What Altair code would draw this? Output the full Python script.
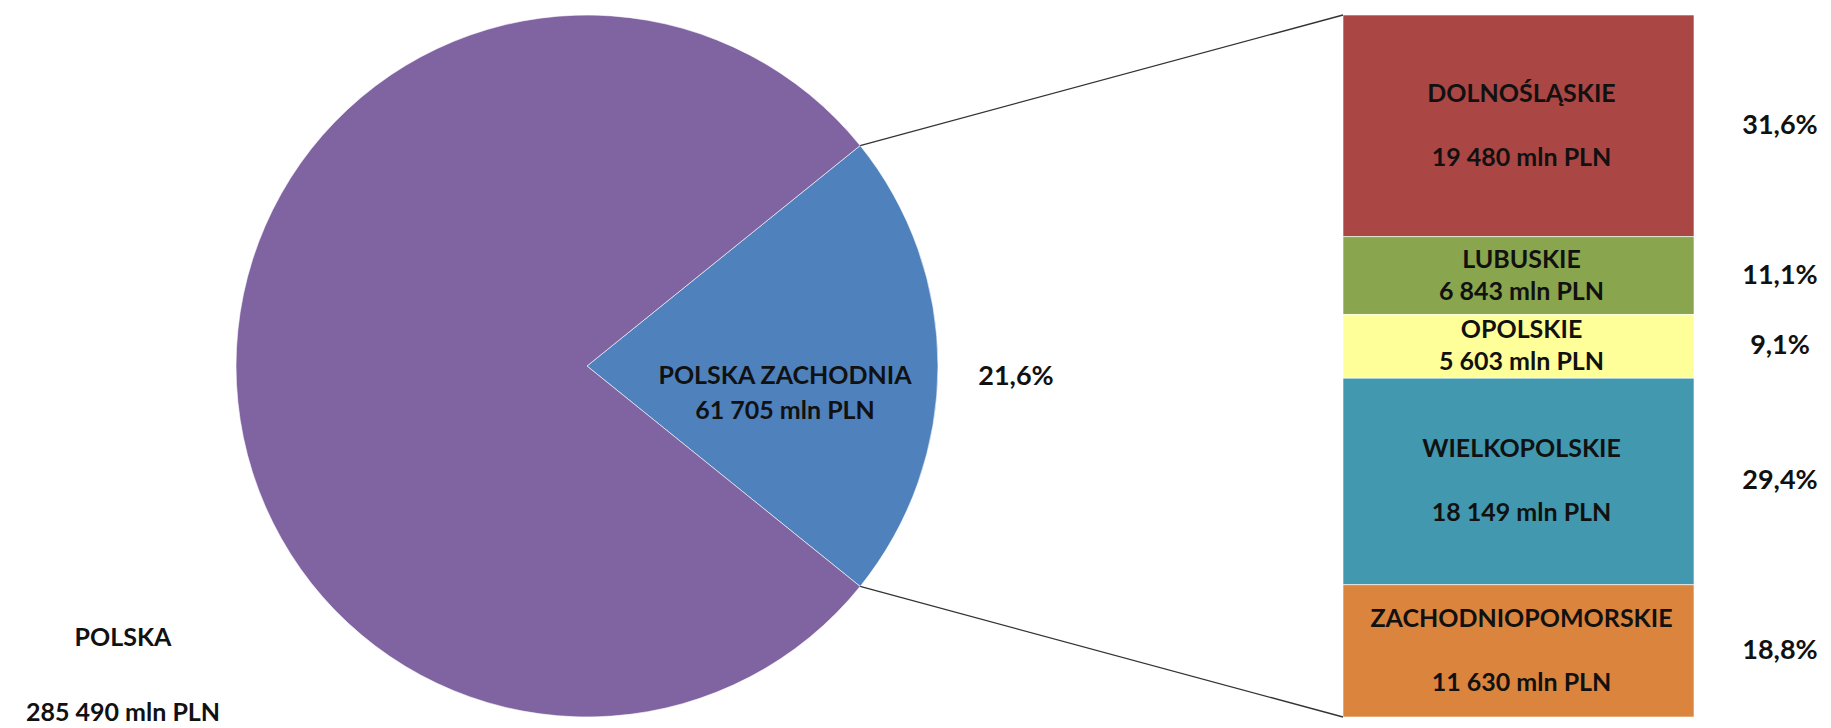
import math
import altair as alt
import pandas as pd

# ---- data ----
total_name = "POLSKA"
total_value = 285490
west_name = "POLSKA ZACHODNIA"
west_value = 61705
west_pct = "21,6%"

regions = ["DOLNOŚLĄSKIE", "LUBUSKIE", "OPOLSKIE", "WIELKOPOLSKIE", "ZACHODNIOPOMORSKIE"]
region_values = [19480, 6843, 5603, 18149, 11630]
region_pct = ["31,6%", "11,1%", "9,1%", "29,4%", "18,8%"]

names_all = [west_name, total_name] + regions
colors_all = ["#4F81BD", "#8064A2", "#AA4643", "#89A54E", "#FFFF99", "#4198AF", "#DB843D"]

# ---- layout ----
W, H = 1831, 728
CX, CY, R = 587, 366, 351
BAR_X0, BAR_X1, BAR_Y0, BAR_Y1 = 1343, 1694, 15, 717
BAR_CX = (BAR_X0 + BAR_X1) / 2 + 3
PCT_X = 1780
FONT = "Lato"
TXT = dict(font=FONT, fontSize=25, fontWeight="bold", color="#111111", baseline="middle", align="center")
PCT = dict(font=FONT, fontSize=27, fontWeight="bold", color="#111111", baseline="middle", align="center")


def fmt(v):
    return f"{v:,}".replace(",", " ") + " mln PLN"


share = west_value / total_value
start = math.pi / 2 - share * math.pi

color = alt.Color("name:N", scale=alt.Scale(domain=names_all, range=colors_all), legend=None)

# pie
pie_df = pd.DataFrame({
    "name": [west_name, total_name],
    "value": [west_value, total_value - west_value],
    "ord": [0, 1],
})
pie = alt.Chart(pie_df).mark_arc(radius=R, stroke="#ffffff", strokeWidth=0.6).encode(
    theta=alt.Theta("value:Q", stack=True,
                    scale=alt.Scale(domain=[0, total_value], range=[start, start + 2 * math.pi], nice=False)),
    order=alt.Order("ord:Q"),
    color=color,
    x=alt.value(CX),
    y=alt.value(CY),
)

# stacked bar (Dolnośląskie on top)
hi, lo = [], []
acc = west_value
for v in region_values:
    hi.append(acc)
    acc -= v
    lo.append(acc)
bar_df = pd.DataFrame({
    "name": regions,
    "value": region_values,
    "hi": hi,
    "lo": lo,
    "mid": [(a + b) / 2 for a, b in zip(hi, lo)],
    "pct": region_pct,
    "vlabel": [fmt(v) for v in region_values],
    "big": [v / west_value > 0.15 for v in region_values],
})
yscale = alt.Scale(domain=[0, west_value], range=[BAR_Y1, BAR_Y0], nice=False, zero=True)

base = alt.Chart(bar_df)
bars = base.mark_bar(stroke="#ffffff", strokeWidth=0.6).encode(
    y=alt.Y("lo:Q", scale=yscale, axis=None),
    y2="hi:Q",
    x=alt.value(BAR_X0),
    x2=alt.value(BAR_X1),
    color=color,
)


def seg_text(field, dy, big):
    return base.transform_filter(
        alt.datum.big if big else ~alt.datum.big
    ).mark_text(dy=dy, **TXT).encode(
        y=alt.Y("mid:Q", scale=yscale, axis=None),
        x=alt.value(BAR_CX),
        text=f"{field}:N",
    )


txt_layers = [
    seg_text("name", -32, True), seg_text("vlabel", 32, True),
    seg_text("name", -16, False), seg_text("vlabel", 16, False),
]

pct_text = base.mark_text(**PCT).encode(
    y=alt.Y("mid:Q", scale=yscale, axis=None),
    x=alt.value(PCT_X),
    text="pct:N",
)

# pie labels
one = pd.DataFrame({"k": [0]})


def fixed_text(t, x, y, style):
    return alt.Chart(pd.DataFrame({"t": [t]})).mark_text(**style).encode(
        x=alt.value(x), y=alt.value(y), text="t:N")


pie_labels = [
    fixed_text(west_name, 785, 376, TXT),
    fixed_text(fmt(west_value), 785, 411, TXT),
    fixed_text(west_pct, 1016, 377, PCT),
    fixed_text(total_name, 123, 638, TXT),
    fixed_text(fmt(total_value), 123, 713, TXT),
]

# connector lines
a1 = start
a2 = start + share * 2 * math.pi
p1 = (CX + R * math.sin(a1), CY - R * math.cos(a1))
p2 = (CX + R * math.sin(a2), CY - R * math.cos(a2))
line1 = alt.Chart(one).mark_rule(color="#333333", strokeWidth=1.3).encode(
    x=alt.value(p1[0]), y=alt.value(p1[1]), x2=alt.value(BAR_X0), y2=alt.value(BAR_Y0))
line2 = alt.Chart(one).mark_rule(color="#333333", strokeWidth=1.3).encode(
    x=alt.value(p2[0]), y=alt.value(p2[1]), x2=alt.value(BAR_X0), y2=alt.value(BAR_Y1))

chart = alt.layer(
    pie, bars, line1, line2, *txt_layers, pct_text, *pie_labels
).properties(
    width=W, height=H, autosize=alt.AutoSizeParams(type="none"), padding=0, background="white"
).configure_view(stroke=None)

chart.save("out.html", embed_options={"renderer": "svg", "actions": False})
